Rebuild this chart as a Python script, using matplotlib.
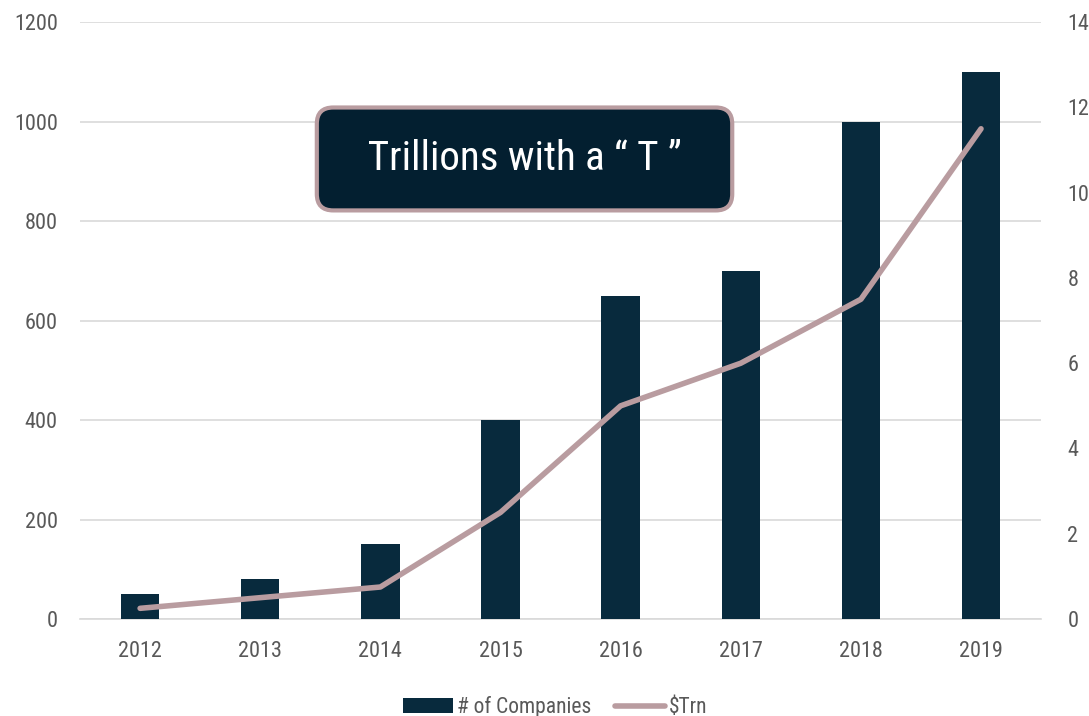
import matplotlib.pyplot as plt
import numpy as np

plt.rcParams['font.family'] = ['Roboto Condensed', 'Barlow Semi Condensed', 'DejaVu Sans']

years = ['2012', '2013', '2014', '2015', '2016', '2017', '2018', '2019']
companies = [50, 80, 150, 400, 650, 700, 1000, 1100]
trillions = [0.25, 0.5, 0.75, 2.5, 5.0, 6.0, 7.5, 11.5]

bar_color = '#082a3d'
line_color = '#b99ca0'
tick_color = '#595959'

fig = plt.figure(figsize=(10.89, 7.16), dpi=100)
ax = fig.add_axes([0.0735, 0.1355, 0.8825, 0.8335])
ax2 = ax.twinx()

x = np.arange(len(years))
ax.bar(x, companies, width=0.32, color=bar_color, label='# of Companies', zorder=3)
ax2.plot(x, trillions, color=line_color, lw=4, solid_capstyle='round', label='$Trn', zorder=4)

ax.set_xlim(-0.5, len(years) - 0.5)
ax.set_ylim(0, 1200)
ax.set_yticks(range(0, 1201, 200))
ax2.set_ylim(0, 14)
ax2.set_yticks(range(0, 15, 2))
ax.set_xticks(x)
ax.set_xticklabels(years)

ax.grid(axis='y', color='#d9d9d9', lw=1.2, zorder=0)
ax.set_axisbelow(True)
for a in (ax, ax2):
    for s in a.spines.values():
        s.set_visible(False)
ax.spines['bottom'].set_visible(True)
ax.spines['bottom'].set_color('#d9d9d9')
ax.spines['bottom'].set_linewidth(1.2)

ax.tick_params(axis='both', length=0, labelsize=16, labelcolor=tick_color, pad=16)
ax.tick_params(axis='x', pad=16)
ax2.tick_params(axis='y', length=0, labelsize=16, labelcolor=tick_color, pad=19)

ax.text(3.2, 925, '  Trillions with a \u201c T \u201d  ', fontsize=29.5, color='white',
        ha='center', va='center', zorder=10,
        bbox=dict(boxstyle='round,pad=0.78,rounding_size=0.4', facecolor='#031f30',
                  edgecolor=line_color, linewidth=3))

h1, l1 = ax.get_legend_handles_labels()
h2, l2 = ax2.get_legend_handles_labels()
leg = fig.legend(h1 + h2, l1 + l2, loc='lower center', bbox_to_anchor=(0.51, -0.03),
                 ncol=2, frameon=False, fontsize=15.5, handlelength=2.3, handletextpad=0.2,
                 columnspacing=1.1)
for t in leg.get_texts():
    t.set_color(tick_color)

fig.savefig('out.png', dpi=100)
